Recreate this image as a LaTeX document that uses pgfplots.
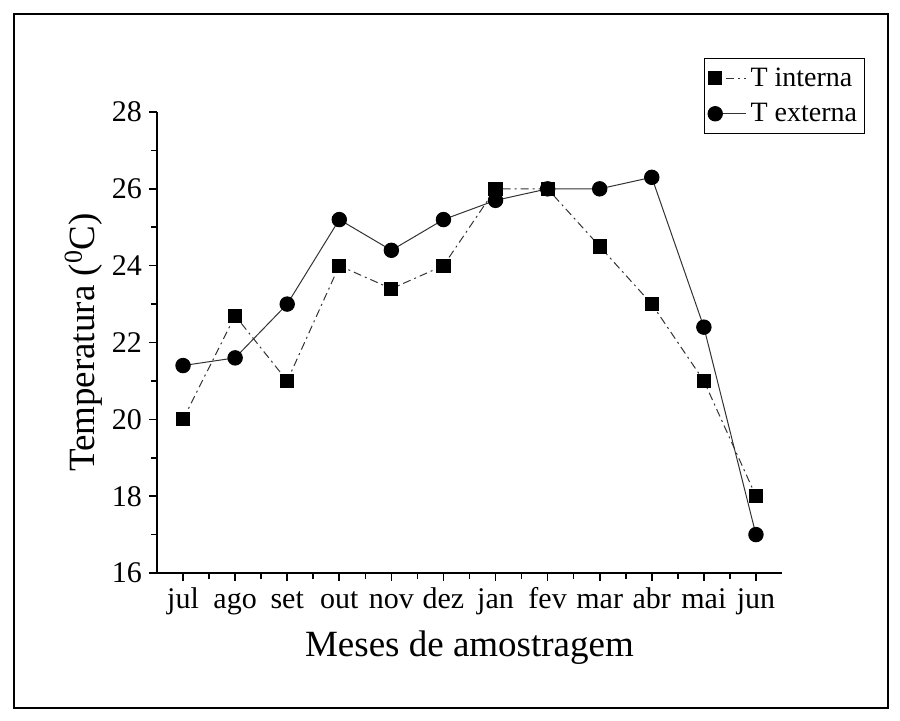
\documentclass[border=0pt]{standalone}
\usepackage{pgfplots}
\pgfplotsset{compat=1.18}
\usepackage{fontspec}
\setmainfont{Liberation Serif}

\begin{document}
\begin{tikzpicture}
% page extent and outer frame
\path (-78.5pt,-73.5pt) rectangle (371.5pt,286.5pt);
\draw[line width=1.3pt] (-71.5pt,-67.5pt) rectangle (365.5pt,279.5pt);
\begin{axis}[
    at={(0,0)}, anchor=south west,
    width=312.5pt, height=230.5pt,
    scale only axis,
    axis lines*=left,
    axis line style={line width=0.9pt, -},
    xmin=-0.5, xmax=11.5,
    ymin=16, ymax=28,
    xtick={0,...,11},
    xticklabels={jul,ago,set,out,nov,dez,jan,fev,mar,abr,mai,jun},
    minor xtick={0.5,1.5,...,10.5},
    ytick={16,18,...,28},
    minor ytick={17,19,...,27},
    tick align=outside,
    tick pos=left,
    major tick length=4pt,
    minor tick length=3pt,
    tick style={line width=0.8pt, black},
    ticklabel style={font=\fontsize{15}{17}\selectfont},
    xticklabel style={text height=1.6ex, text depth=0.3ex, yshift=-3pt},
    /pgf/number format/assume math mode=true,
    xlabel={Meses de amostragem},
    ylabel={Temperatura (\textsuperscript{0}C)},
    label style={font=\fontsize{18.5}{22}\selectfont},
    xlabel style={yshift=-3pt},
    ylabel style={yshift=-2pt},
    legend style={at={(1.132,1.117)}, anchor=north east,
        draw=black, line width=0.5pt,
        font=\fontsize{14}{16}\selectfont,
        inner xsep=1.5pt, inner ysep=2.5pt, row sep=3pt},
    legend cell align=left,
    legend image code/.code={
        \draw[#1] (0pt,0pt) -- (19pt,0pt);
        \draw[#1, only marks] plot coordinates {(3.6pt,0pt)};
    },
]
\addplot[line width=0.5pt, black!80, dash pattern=on 4pt off 2pt on 1pt off 2pt,
    mark=square*, mark size=3.3pt, mark options={solid, black}]
coordinates {
(0,20) (1,22.7) (2,21) (3,24) (4,23.4) (5,24)
(6,26) (7,26) (8,24.5) (9,23) (10,21) (11,18)
};
\addlegendentry{T interna}
\addplot[line width=0.5pt, black!80, solid,
    mark=*, mark size=3.6pt, mark options={solid, black}]
coordinates {
(0,21.4) (1,21.6) (2,23) (3,25.2) (4,24.4) (5,25.2)
(6,25.7) (7,26) (8,26) (9,26.3) (10,22.4) (11,17)
};
\addlegendentry{T externa}
\end{axis}
\end{tikzpicture}
\end{document}
